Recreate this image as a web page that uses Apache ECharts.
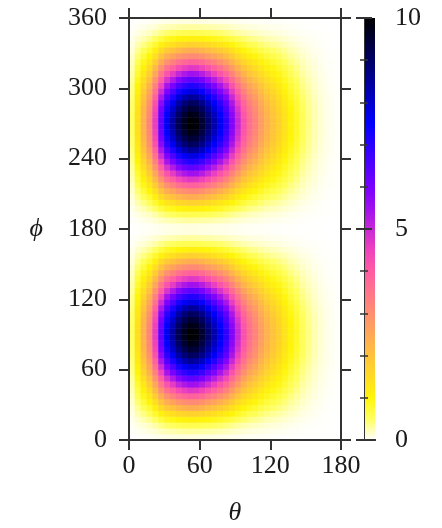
<!DOCTYPE html>
<html>
<head>
<meta charset="utf-8">
<script src="https://cdn.jsdelivr.net/npm/echarts@6.0.0/dist/echarts.min.js"></script>
<style>
html, body { margin: 0; padding: 0; background: #fff; }
#main { width: 442px; height: 528px; }
</style>
</head>
<body>
<div id="main"></div>
<script>
// cell centres (degrees)
var thetaCenters = [2.5, 7.5, 12.5, 17.5, 22.5, 27.5, 32.5, 37.5, 42.5, 47.5, 52.5, 57.5,
    62.5, 67.5, 72.5, 77.5, 82.5, 87.5, 92.5, 97.5, 102.5, 107.5, 112.5, 117.5,
    122.5, 127.5, 132.5, 137.5, 142.5, 147.5, 152.5, 157.5, 162.5, 167.5, 172.5, 177.5];
var phiCenters = [2.5, 7.5, 12.5, 17.5, 22.5, 27.5, 32.5, 37.5, 42.5, 47.5, 52.5, 57.5,
    62.5, 67.5, 72.5, 77.5, 82.5, 87.5, 92.5, 97.5, 102.5, 107.5, 112.5, 117.5,
    122.5, 127.5, 132.5, 137.5, 142.5, 147.5, 152.5, 157.5, 162.5, 167.5, 172.5, 177.5,
    182.5, 187.5, 192.5, 197.5, 202.5, 207.5, 212.5, 217.5, 222.5, 227.5, 232.5, 237.5,
    242.5, 247.5, 252.5, 257.5, 262.5, 267.5, 272.5, 277.5, 282.5, 287.5, 292.5, 297.5,
    302.5, 307.5, 312.5, 317.5, 322.5, 327.5, 332.5, 337.5, 342.5, 347.5, 352.5, 357.5];

// value along the phi = 90 row
var thetaProfile = [0.5, 1.4, 2.3, 3.2, 4.6, 6.3, 7.6, 8.4, 9.2, 9.7, 10.0, 9.9,
    9.5, 8.9, 8.3, 7.6, 6.9, 5.9, 5.0, 4.2, 3.6, 3.2, 2.7, 2.3,
    2.0, 1.7, 1.35, 1.05, 0.8, 0.55, 0.38, 0.25, 0.15, 0.08, 0.04, 0.01];
// relative level along the theta ~ 52 column
var phiProfile = [0.01, 0.03, 0.06, 0.11, 0.17, 0.24, 0.31, 0.39, 0.47, 0.55, 0.63, 0.71,
    0.78, 0.85, 0.91, 0.95, 0.98, 1.00, 1.00, 0.98, 0.95, 0.91, 0.85, 0.78,
    0.71, 0.63, 0.55, 0.47, 0.39, 0.31, 0.24, 0.17, 0.11, 0.06, 0.03, 0.01,
    0.01, 0.03, 0.06, 0.11, 0.17, 0.24, 0.31, 0.39, 0.47, 0.55, 0.63, 0.71,
    0.78, 0.85, 0.91, 0.95, 0.98, 1.00, 1.00, 0.98, 0.95, 0.91, 0.85, 0.78,
    0.71, 0.63, 0.55, 0.47, 0.39, 0.31, 0.24, 0.17, 0.11, 0.06, 0.03, 0.01];

var thetaTicks = [0, 60, 120, 180];
var phiTicks = [0, 60, 120, 180, 240, 300, 360];
var colorTicks = [0, 5, 10];

// white -> yellow -> orange -> pink -> violet -> blue -> black
var palette = ['#ffffff', '#ffff60', '#fff50a', '#ffdb24', '#ffc23d', '#ffa857', '#ff8f70',
    '#ff758a', '#ff5ca3', '#ef42bd', '#c729d6', '#9f0fef', '#7800ff', '#5000ff', '#2800ff',
    '#0000ff', '#0000cc', '#000099', '#000066', '#000033', '#000000'];

var heatData = [];
for (var j = 0; j < phiCenters.length; j++) {
    for (var i = 0; i < thetaCenters.length; i++) {
        heatData.push([i, j, +(thetaProfile[i] * phiProfile[j]).toFixed(3)]);
    }
}

var lineCol = '#333';
var serif = "'Liberation Serif', 'DejaVu Serif', serif";
var labelStyle = { fontFamily: serif, fontSize: 26, color: '#1a1a1a' };

function frameAxis(grid, pos, ticks, len, showLabel, margin, lw) {
    return {
        type: 'value', gridIndex: grid, position: pos, z: 10,
        min: ticks[0], max: ticks[ticks.length - 1], interval: ticks[1] - ticks[0],
        axisLine: { show: true, lineStyle: { color: lineCol, width: lw } },
        axisTick: { show: len > 0, inside: false, length: len, lineStyle: { color: lineCol, width: lw } },
        axisLabel: Object.assign({ show: showLabel, margin: margin }, labelStyle),
        splitLine: { show: false }
    };
}

var gradStops = palette.map(function (c, k) {
    return { offset: k / (palette.length - 1), color: c };
});

var xTheta = frameAxis(0, 'bottom', thetaTicks, 10, true, 13, 2);
xTheta.name = 'θ';
xTheta.nameLocation = 'middle';
xTheta.nameGap = 60;
xTheta.nameTextStyle = { fontFamily: serif, fontSize: 26, fontStyle: 'italic', color: '#1a1a1a' };

var yPhi = frameAxis(0, 'left', phiTicks, 10, true, 22, 2);
yPhi.name = 'ϕ';
yPhi.nameLocation = 'middle';
yPhi.nameRotate = 0;
yPhi.nameGap = 86;
yPhi.nameTextStyle = { fontFamily: serif, fontSize: 26, fontStyle: 'italic', color: '#1a1a1a' };

var cbRight = frameAxis(1, 'right', colorTicks, 8, true, 20, 1);
cbRight.minorTick = { show: true, splitNumber: 5, length: 4, lineStyle: { color: lineCol, width: 1.5 } };
cbRight.axisTick.lineStyle.width = 2;
var cbLeft = frameAxis(1, 'left', colorTicks, 8, false, 8, 1);
cbLeft.minorTick = { show: true, splitNumber: 5, length: 4, lineStyle: { color: lineCol, width: 1.5 } };
cbLeft.axisTick.lineStyle.width = 2;

var option = {
    animation: false,
    backgroundColor: '#fff',
    grid: [
        { left: 129, top: 18, width: 212, height: 422, outerBoundsMode: 'none' },
        { left: 364, top: 18, width: 11, height: 422, outerBoundsMode: 'none' }
    ],
    xAxis: [
        { type: 'category', gridIndex: 0, data: thetaCenters, show: false },
        xTheta,
        frameAxis(0, 'top', thetaTicks, 10, false, 8, 2),
        frameAxis(1, 'bottom', [0, 1], 0, false, 8, 2),
        frameAxis(1, 'top', [0, 1], 0, false, 8, 2)
    ],
    yAxis: [
        { type: 'category', gridIndex: 0, data: phiCenters, show: false },
        yPhi,
        frameAxis(0, 'right', phiTicks, 10, false, 8, 2),
        cbRight,
        cbLeft
    ],
    visualMap: {
        type: 'continuous', show: false, seriesIndex: 0,
        min: colorTicks[0], max: colorTicks[colorTicks.length - 1],
        inRange: { color: palette }
    },
    graphic: [{
        type: 'rect', left: 364, top: 18, z: -1,
        shape: { width: 11, height: 422 },
        style: { fill: new echarts.graphic.LinearGradient(0, 1, 0, 0, gradStops) }
    }],
    series: [{
        type: 'heatmap',
        xAxisIndex: 0,
        yAxisIndex: 0,
        data: heatData,
        progressive: 0,
        emphasis: { disabled: true }
    }]
};

var chart = echarts.init(document.getElementById('main'), null, { renderer: 'canvas' });
chart.setOption(option);
</script>
</body>
</html>
